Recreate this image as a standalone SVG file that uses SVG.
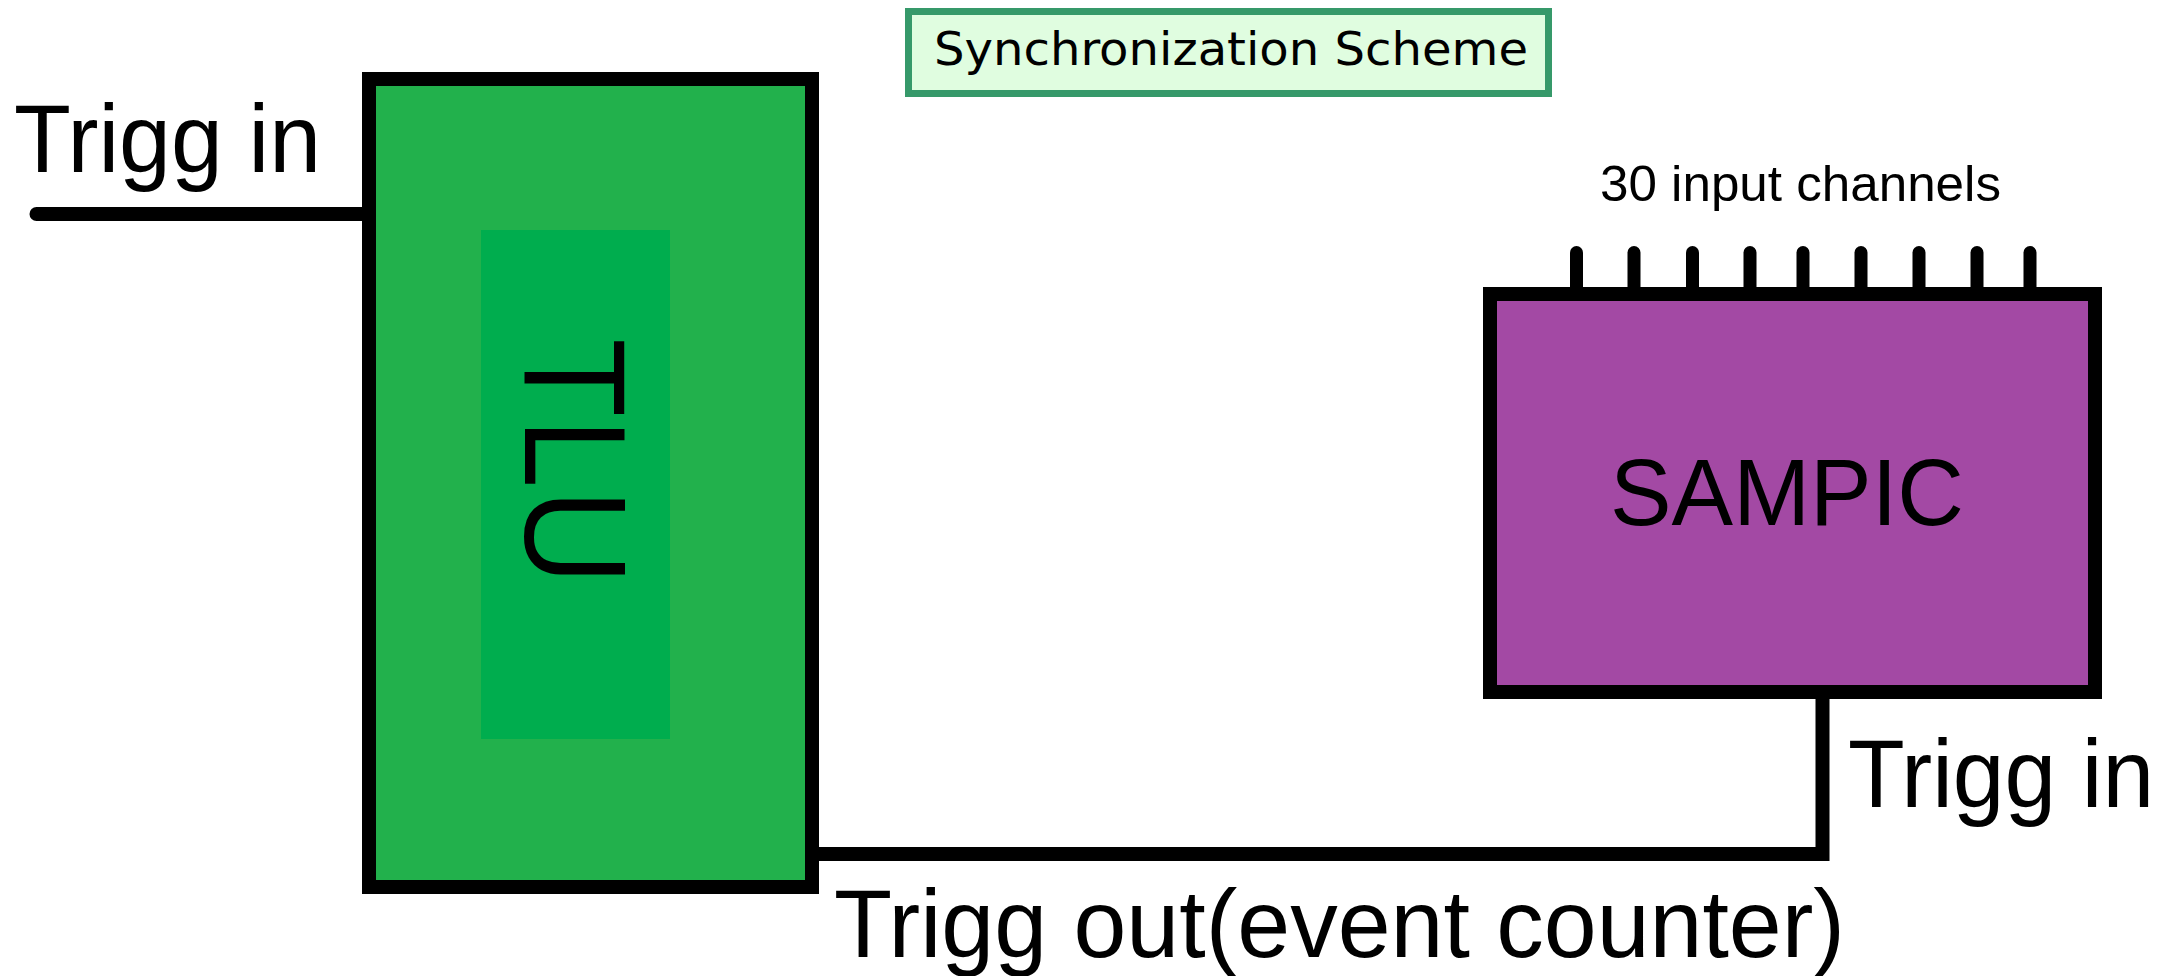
<svg xmlns="http://www.w3.org/2000/svg" width="2168" height="976" viewBox="0 0 2168 976">
  <style>
    .lbl { font-family: "Liberation Sans", Arial, sans-serif; fill: #000; }
    .wire { fill: none; stroke: #000; stroke-width: 14; }
    .pin { stroke: #000; stroke-width: 13; stroke-linecap: round; }
  </style>
  <rect x="0" y="0" width="2168" height="976" fill="#ffffff"/>

  <!-- title banner -->
  <g id="title">
    <rect x="908.5" y="11.5" width="640" height="82" fill="#e0fde0" stroke="#36996a" stroke-width="7"/>
    <text x="1231" y="65" text-anchor="middle" font-family="'Comic Sans MS', 'DejaVu Sans', sans-serif" font-size="47" textLength="594" lengthAdjust="spacingAndGlyphs" fill="#000">Synchronization Scheme</text>
  </g>

  <!-- connectors -->
  <g id="connectors">
    <line class="wire" x1="36.5" y1="214" x2="363" y2="214" stroke-width="13" stroke-linecap="round"/>
    <path class="wire" d="M 818 854 H 1822.5 V 698" stroke-linejoin="miter"/>
  </g>

  <!-- TLU node -->
  <g id="tlu">
    <rect x="369" y="79" width="443" height="808" fill="#22b14c" stroke="#000" stroke-width="14"/>
    <rect x="481" y="230" width="189" height="509" fill="#00ad4e"/>
    <text transform="translate(525,463.5) rotate(90)" text-anchor="middle" font-family="'Open Sans', 'DejaVu Sans', sans-serif" font-size="139" textLength="247" lengthAdjust="spacingAndGlyphs" fill="#000">TLU</text>
  </g>

  <!-- SAMPIC node with its input pins -->
  <g id="sampic">
    <line class="pin" x1="1576.5" y1="252.5" x2="1576.5" y2="290"/>
    <line class="pin" x1="1634" y1="252.5" x2="1634" y2="290"/>
    <line class="pin" x1="1692.5" y1="252.5" x2="1692.5" y2="290"/>
    <line class="pin" x1="1750" y1="252.5" x2="1750" y2="290"/>
    <line class="pin" x1="1803" y1="252.5" x2="1803" y2="290"/>
    <line class="pin" x1="1861" y1="252.5" x2="1861" y2="290"/>
    <line class="pin" x1="1919" y1="252.5" x2="1919" y2="290"/>
    <line class="pin" x1="1977" y1="252.5" x2="1977" y2="290"/>
    <line class="pin" x1="2030" y1="252.5" x2="2030" y2="290"/>
    <rect x="1490" y="294" width="605" height="398" fill="#a349a4" stroke="#000" stroke-width="14"/>
    <text class="lbl" x="1610" y="525" font-size="95" textLength="354" lengthAdjust="spacingAndGlyphs">SAMPIC</text>
  </g>

  <!-- labels -->
  <g id="labels">
    <text class="lbl" x="14" y="172" font-size="96" textLength="307" lengthAdjust="spacingAndGlyphs">Trigg in</text>
    <text class="lbl" x="1600" y="201" font-size="50" textLength="401" lengthAdjust="spacingAndGlyphs">30 input channels</text>
    <text class="lbl" x="1848" y="807" font-size="96" textLength="306" lengthAdjust="spacingAndGlyphs">Trigg in</text>
    <text class="lbl" x="834" y="957" font-size="96" textLength="1011" lengthAdjust="spacingAndGlyphs">Trigg out(event counter)</text>
  </g>
</svg>
